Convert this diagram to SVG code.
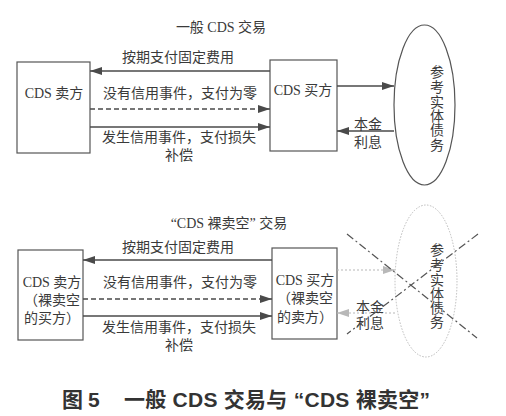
<svg xmlns="http://www.w3.org/2000/svg" width="506" height="416" viewBox="0 0 506 416">
<defs>
<marker id="ah" viewBox="0 0 12 8" refX="12" refY="4" markerWidth="12" markerHeight="8" markerUnits="userSpaceOnUse" orient="auto">
<path d="M0,0 L12,4 L0,8 Z" fill="#4a4a4a"/>
</marker>
<marker id="ahl" viewBox="0 0 12 8" refX="12" refY="4" markerWidth="12" markerHeight="8" markerUnits="userSpaceOnUse" orient="auto">
<path d="M0,0 L12,4 L0,8 Z" fill="#b8b8b8"/>
</marker>
<style>
text{font-family:"Liberation Serif","Noto Sans CJK SC",serif;font-size:14px;fill:#3a3a3a}
.c{text-anchor:middle}
.box{fill:#fff;stroke:#555;stroke-width:1.2}
.ln{stroke:#4a4a4a;stroke-width:1.6;fill:none}
.dash{stroke-dasharray:5,3}
.lt{stroke:#b8b8b8;stroke-width:1.2;fill:none;stroke-dasharray:2,2}
.x{stroke:#555;stroke-width:1.2;stroke-dasharray:8,3,2,3;fill:none}
.cap{font-family:"Liberation Sans","Noto Sans CJK SC",sans-serif;font-size:21px;font-weight:bold;fill:#333}
</style>
</defs>
<rect width="506" height="416" fill="#fff"/>

<text class="c" x="221" y="32">一般 CDS 交易</text>

<g id="seller1"><rect class="box" x="17" y="62" width="73" height="91"/><text class="c" x="54" y="98">CDS 卖方</text></g>
<g id="buyer1"><rect class="box" x="270" y="60" width="67" height="91"/><text class="c" x="303" y="95">CDS 买方</text></g>
<g id="ref1"><ellipse cx="424.5" cy="105" rx="30.5" ry="80" fill="#fff" stroke="#555" stroke-width="1.2"/>
<text class="c" x="437" y="77">参</text><text class="c" x="437" y="92">考</text><text class="c" x="437" y="107">实</text><text class="c" x="437" y="121">体</text><text class="c" x="437" y="135">债</text><text class="c" x="437" y="150">务</text></g>

<g id="connectors1">
<line class="ln" x1="270" y1="71" x2="90" y2="71" marker-end="url(#ah)"/>
<line class="ln dash" x1="90" y1="109" x2="270" y2="109" marker-end="url(#ah)"/>
<line class="ln" x1="90" y1="127" x2="270" y2="127" marker-end="url(#ah)"/>
<line class="ln" x1="337" y1="86" x2="394" y2="86" marker-end="url(#ah)"/>
<line class="ln" x1="394" y1="131" x2="337" y2="131" marker-end="url(#ah)"/>
<text class="c" x="178" y="62">按期支付固定费用</text>
<text class="c" x="180" y="98">没有信用事件，支付为零</text>
<text class="c" x="179" y="142">发生信用事件，支付损失</text>
<text class="c" x="179" y="160">补偿</text>
<text class="c" x="368" y="129">本金</text>
<text class="c" x="368" y="147">利息</text>
</g>

<text class="c" x="229" y="228">“CDS 裸卖空” 交易</text>

<g id="seller2"><rect class="box" x="18" y="250" width="65" height="90"/>
<text class="c" x="52" y="287">CDS 卖方</text><text class="c" x="52" y="305">（裸卖空</text><text class="c" x="52" y="323">的买方）</text></g>
<g id="buyer2"><rect class="box" x="272" y="248" width="65" height="91"/>
<text class="c" x="305" y="285">CDS 买方</text><text class="c" x="305" y="303">（裸卖空</text><text class="c" x="305" y="322">的卖方）</text></g>
<g id="ref2"><ellipse cx="426" cy="281" rx="31" ry="76" fill="none" stroke="#bbb" stroke-width="1" stroke-dasharray="1.5,1.5"/>
<text class="c" x="437" y="255">参</text><text class="c" x="437" y="270">考</text><text class="c" x="437" y="285">实</text><text class="c" x="437" y="299">体</text><text class="c" x="437" y="313">债</text><text class="c" x="437" y="327">务</text></g>

<g id="connectors2">
<line class="ln" x1="272" y1="260" x2="83" y2="260" marker-end="url(#ah)"/>
<line class="ln dash" x1="83" y1="299" x2="272" y2="299" marker-end="url(#ah)"/>
<line class="ln" x1="83" y1="316" x2="272" y2="316" marker-end="url(#ah)"/>
<line class="lt" x1="337" y1="270" x2="395" y2="270" marker-end="url(#ahl)"/>
<line class="lt" x1="395" y1="313" x2="337" y2="313" marker-end="url(#ahl)"/>
<text class="c" x="178" y="252">按期支付固定费用</text>
<text class="c" x="180" y="287">没有信用事件，支付为零</text>
<text class="c" x="179" y="332">发生信用事件，支付损失</text>
<text class="c" x="179" y="350">补偿</text>
<text class="c" x="370" y="312">本金</text>
<text class="c" x="370" y="328">利息</text>
<line class="x" x1="347" y1="234" x2="477" y2="338"/>
<line class="x" x1="478" y1="234" x2="347" y2="334"/>
</g>

<text class="cap" x="62" y="407"><tspan x="62">图</tspan><tspan x="88">5</tspan><tspan x="124" textLength="306" lengthAdjust="spacing">一般 CDS 交易与 “CDS 裸卖空”</tspan></text>
</svg>
